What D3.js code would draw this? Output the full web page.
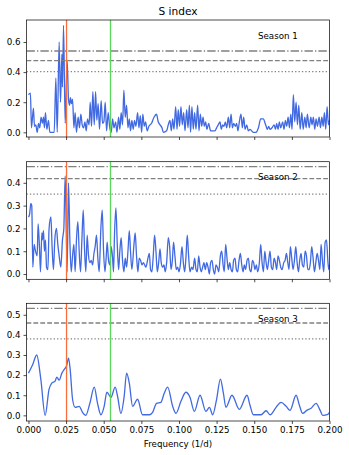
<!DOCTYPE html>
<html>
<head>
<meta charset="utf-8">
<script src="https://cdn.jsdelivr.net/npm/d3@7"></script>
<style>
body { margin: 0; background: #fff; }
svg { display: block; }
text { font-family: "DejaVu Sans", sans-serif; }
</style>
</head>
<body>
<svg id="chart"></svg>
<script>
// Season 1 periodogram
const freq1 = [
0.0000,0.0013,0.0020,0.0033,0.0040,0.0049,0.0058,0.0067,0.0075,0.0084,
0.0093,0.0100,0.0106,0.0113,0.0122,0.0133,0.0142,0.0171,0.0182,0.0191,
0.0204,0.0213,0.0222,0.0226,0.0233,0.0244,0.0257,0.0266,0.0273,0.0279,
0.0286,0.0293,0.0302,0.0310,0.0319,0.0330,0.0339,0.0348,0.0357,0.0366,
0.0375,0.0384,0.0392,0.0403,0.0410,0.0419,0.0428,0.0437,0.0446,0.0454,
0.0463,0.0472,0.0483,0.0492,0.0501,0.0510,0.0519,0.0530,0.0539,0.0550,
0.0559,0.0568,0.0579,0.0588,0.0599,0.0607,0.0616,0.0625,0.0634,0.0643,
0.0652,0.0661,0.0670,0.0678,0.0687,0.0696,0.0705,0.0714,0.0725,0.0734,
0.0743,0.0752,0.0760,0.0769,0.0778,0.0789,0.0800,0.0818,0.0834,0.0851,
0.0862,0.0874,0.0887,0.0896,0.0918,0.0929,0.0940,0.0949,0.0958,0.0967,
0.0978,0.0987,0.0995,0.1004,0.1013,0.1022,0.1031,0.1040,0.1051,0.1060,
0.1069,0.1077,0.1086,0.1095,0.1104,0.1113,0.1124,0.1133,0.1142,0.1151,
0.1160,0.1168,0.1177,0.1186,0.1197,0.1210,0.1239,0.1250,0.1261,0.1273,
0.1281,0.1290,0.1299,0.1308,0.1317,0.1328,0.1337,0.1346,0.1355,0.1363,
0.1375,0.1383,0.1392,0.1401,0.1412,0.1421,0.1430,0.1439,0.1450,0.1461,
0.1472,0.1494,0.1512,0.1528,0.1543,0.1561,0.1572,0.1579,0.1587,0.1596,
0.1605,0.1618,0.1632,0.1641,0.1649,0.1658,0.1667,0.1676,0.1689,0.1698,
0.1707,0.1716,0.1725,0.1734,0.1743,0.1751,0.1760,0.1769,0.1778,0.1787,
0.1796,0.1805,0.1816,0.1825,0.1836,0.1845,0.1853,0.1865,0.1876,0.1884,
0.1893,0.1902,0.1911,0.1920,0.1931,0.1940,0.1949,0.1958,0.1966,0.1975,
0.1984,0.1993,0.2000
];
const power1 = [
0.25,0.26,0.03,0.16,0.04,0.05,0.00,0.06,0.03,0.10,
0.06,0.10,0.03,0.13,0.02,0.08,0.00,0.00,0.36,0.00,
0.60,0.20,0.52,0.30,0.71,0.06,0.48,0.22,0.18,0.23,
0.19,0.22,0.03,0.13,0.00,0.10,0.03,0.12,0.05,0.03,
0.07,0.01,0.09,0.05,0.20,0.04,0.27,0.05,0.27,0.08,
0.19,0.02,0.21,0.06,0.07,0.20,0.01,0.13,0.04,0.00,
0.09,0.03,0.07,0.00,0.10,0.02,0.13,0.05,0.28,0.10,
0.18,0.03,0.09,0.01,0.08,0.02,0.08,0.04,0.13,0.03,
0.11,0.00,0.12,0.04,0.07,0.01,0.04,0.06,0.10,0.12,
0.07,0.05,0.03,0.00,0.01,0.05,0.08,0.01,0.09,0.02,
0.17,0.02,0.15,0.04,0.17,0.05,0.13,0.01,0.15,0.03,
0.18,0.00,0.17,0.02,0.13,0.02,0.18,0.01,0.12,0.04,
0.10,0.04,0.07,0.02,0.06,0.01,0.01,0.03,0.05,0.07,
0.02,0.05,0.04,0.07,0.03,0.10,0.03,0.12,0.03,0.06,
0.04,0.06,0.01,0.07,0.12,0.03,0.10,0.02,0.05,0.01,
0.02,0.00,0.00,0.03,0.09,0.09,0.06,0.04,0.02,0.04,
0.02,0.03,0.05,0.02,0.06,0.02,0.07,0.03,0.07,0.02,
0.08,0.04,0.10,0.03,0.12,0.02,0.25,0.07,0.20,0.05,
0.18,0.02,0.13,0.02,0.10,0.03,0.12,0.03,0.10,0.05,
0.10,0.02,0.09,0.04,0.10,0.03,0.10,0.04,0.13,0.02,
0.17,0.05,0.08
];

// Season 2 periodogram
const freq2 = [
0.0000,0.0007,0.0016,0.0022,0.0029,0.0038,0.0044,0.0051,0.0058,0.0064,
0.0073,0.0080,0.0089,0.0093,0.0100,0.0106,0.0113,0.0120,0.0129,0.0137,
0.0149,0.0157,0.0166,0.0175,0.0186,0.0195,0.0204,0.0215,0.0226,0.0235,
0.0244,0.0251,0.0257,0.0266,0.0275,0.0284,0.0293,0.0302,0.0310,0.0319,
0.0328,0.0337,0.0346,0.0355,0.0364,0.0372,0.0381,0.0390,0.0399,0.0408,
0.0417,0.0426,0.0435,0.0443,0.0452,0.0461,0.0470,0.0481,0.0490,0.0499,
0.0508,0.0517,0.0523,0.0532,0.0541,0.0550,0.0559,0.0565,0.0572,0.0581,
0.0590,0.0599,0.0607,0.0616,0.0625,0.0634,0.0643,0.0652,0.0661,0.0670,
0.0678,0.0687,0.0701,0.0709,0.0718,0.0727,0.0736,0.0745,0.0754,0.0763,
0.0772,0.0780,0.0794,0.0803,0.0811,0.0820,0.0829,0.0838,0.0847,0.0856,
0.0865,0.0874,0.0882,0.0891,0.0900,0.0909,0.0918,0.0929,0.0938,0.0947,
0.0956,0.0964,0.0973,0.0982,0.0991,0.1000,0.1009,0.1020,0.1029,0.1038,
0.1046,0.1055,0.1064,0.1073,0.1084,0.1093,0.1104,0.1113,0.1122,0.1131,
0.1140,0.1148,0.1157,0.1166,0.1175,0.1184,0.1193,0.1202,0.1210,0.1219,
0.1228,0.1237,0.1246,0.1255,0.1264,0.1275,0.1284,0.1293,0.1301,0.1310,
0.1319,0.1328,0.1337,0.1346,0.1355,0.1363,0.1372,0.1381,0.1390,0.1399,
0.1408,0.1417,0.1426,0.1434,0.1443,0.1452,0.1461,0.1470,0.1479,0.1488,
0.1496,0.1505,0.1514,0.1523,0.1534,0.1543,0.1552,0.1561,0.1570,0.1579,
0.1587,0.1596,0.1605,0.1614,0.1623,0.1632,0.1641,0.1649,0.1658,0.1667,
0.1676,0.1685,0.1696,0.1705,0.1714,0.1723,0.1731,0.1740,0.1749,0.1758,
0.1767,0.1776,0.1785,0.1794,0.1802,0.1811,0.1820,0.1829,0.1838,0.1847,
0.1856,0.1865,0.1873,0.1882,0.1891,0.1900,0.1909,0.1918,0.1927,0.1936,
0.1944,0.1953,0.1962,0.1971,0.1980,0.1989,0.1995,0.2000
];
const power2 = [
0.25,0.26,0.31,0.30,0.03,0.13,0.11,0.09,0.08,0.22,
0.12,0.01,0.18,0.15,0.19,0.10,0.15,0.03,0.02,0.20,
0.25,0.12,0.02,0.15,0.20,0.13,0.08,0.03,0.15,0.20,
0.43,0.20,0.01,0.40,0.15,0.01,0.08,0.13,0.01,0.15,
0.23,0.10,0.01,0.15,0.28,0.12,0.01,0.17,0.08,0.05,
0.06,0.04,0.09,0.12,0.17,0.07,0.01,0.20,0.28,0.10,
0.01,0.08,0.14,0.06,0.04,0.12,0.07,0.01,0.18,0.29,
0.13,0.02,0.10,0.16,0.06,0.01,0.07,0.03,0.10,0.19,
0.10,0.02,0.13,0.18,0.08,0.01,0.07,0.06,0.04,0.05,
0.04,0.03,0.07,0.09,0.02,0.01,0.08,0.17,0.10,0.01,
0.05,0.11,0.05,0.03,0.04,0.01,0.05,0.16,0.12,0.02,
0.06,0.14,0.08,0.02,0.03,0.01,0.04,0.12,0.05,0.01,
0.07,0.17,0.08,0.01,0.03,0.02,0.07,0.02,0.01,0.08,
0.03,0.01,0.03,0.05,0.02,0.05,0.03,0.00,0.05,0.06,
0.02,0.00,0.04,0.03,0.01,0.08,0.10,0.04,0.01,0.13,
0.07,0.02,0.05,0.02,0.01,0.06,0.07,0.02,0.01,0.06,
0.09,0.04,0.01,0.04,0.02,0.06,0.07,0.02,0.01,0.06,
0.05,0.02,0.04,0.01,0.05,0.13,0.05,0.01,0.10,0.05,
0.02,0.06,0.10,0.03,0.02,0.07,0.05,0.02,0.08,0.06,
0.03,0.02,0.05,0.06,0.09,0.05,0.02,0.12,0.07,0.02,
0.06,0.12,0.05,0.01,0.06,0.09,0.04,0.03,0.10,0.08,
0.02,0.02,0.05,0.12,0.07,0.01,0.05,0.09,0.06,0.02,
0.13,0.06,0.01,0.14,0.15,0.06,0.02,0.04
];

// Season 3 periodogram (smooth)
const freq3 = [
0.0000,0.0027,0.0055,0.0082,0.0111,0.0137,0.0155,0.0177,0.0188,0.0204,
0.0222,0.0239,0.0253,0.0266,0.0277,0.0293,0.0310,0.0337,0.0359,0.0381,
0.0408,0.0437,0.0459,0.0481,0.0503,0.0521,0.0548,0.0576,0.0592,0.0614,
0.0636,0.0652,0.0670,0.0692,0.0725,0.0758,0.0803,0.0825,0.0851,0.0880,
0.0902,0.0925,0.0958,0.0980,0.1013,0.1046,0.1073,0.1102,0.1140,0.1179,
0.1202,0.1224,0.1250,0.1275,0.1295,0.1312,0.1352,0.1401,0.1452,0.1472,
0.1494,0.1545,0.1579,0.1605,0.1645,0.1678,0.1712,0.1738,0.1778,0.1800,
0.1822,0.1849,0.1878,0.1911,0.1938,0.1955,0.1989,0.2000
];
const power3 = [
0.21,0.25,0.30,0.18,0.00,0.13,0.16,0.17,0.19,0.175,
0.21,0.23,0.245,0.285,0.23,0.08,0.04,0.045,0.015,0.00,
0.06,0.14,0.06,0.003,0.045,0.115,0.09,0.14,0.095,0.01,
0.095,0.21,0.16,0.045,0.08,0.003,0.003,0.015,0.06,0.065,
0.11,0.14,0.045,0.01,0.07,0.115,0.09,0.02,0.10,0.02,
0.04,0.003,0.08,0.18,0.11,0.04,0.10,0.03,0.10,0.05,
0.003,0.003,0.023,0.003,0.04,0.065,0.045,0.025,0.10,0.05,
0.01,0.025,0.035,0.06,0.025,0.00,0.005,0.015
];

// false alarm levels (dash-dot, dashed, dotted)
const levels1 = [0.540, 0.476, 0.403];
const levels2 = [0.471, 0.418, 0.350];
const levels3 = [0.532, 0.459, 0.380];

// marked frequencies (orange, green)
const markFreqs = [0.0253, 0.0545];

const xTicks = [0, 0.025, 0.05, 0.075, 0.1, 0.125, 0.15, 0.175, 0.2];
const yTicks1 = [0, 0.2, 0.4, 0.6];
const yTicks2 = [0, 0.1, 0.2, 0.3, 0.4];
const yTicks3 = [0, 0.1, 0.2, 0.3, 0.4, 0.5];
const xDomain = [-0.0013, 0.2];
const yDomain1 = [-0.031, 0.746];
const yDomain2 = [-0.023, 0.4925];
const yDomain3 = [-0.028, 0.557];
const seasonNames = ['Season 1', 'Season 2', 'Season 3'];

const width = 349, height = 455;
const svg = d3.select('#chart').attr('width', width).attr('height', height);

class PeriodPanel {
    constructor (config, data) {
        this.config = {
            id: config.id,
            left: config.left,
            top: config.top,
            width: config.width,
            height: config.height,
            xlabels: config.xlabels || false,
            label: config.label || ''
        };
        this.data = data;
        this.init();
    }

    init() {
        let self = this;
        const c = self.config;

        self.chart = svg.append('g')
            .attr('transform', `translate(${c.left}, ${c.top})`);

        self.xscale = d3.scaleLinear().domain(xDomain).range([0, c.width]);
        self.yscale = d3.scaleLinear().domain(self.data.ydomain).range([c.height, 0]);

        self.chart.append('clipPath')
            .attr('id', `clip${c.id}`)
            .append('rect')
            .attr('width', c.width)
            .attr('height', c.height);

        self.plot = self.chart.append('g')
            .attr('clip-path', `url(#clip${c.id})`);
    }

    render() {
        let self = this;
        const c = self.config;
        const d = self.data;

        const points = d3.zip(d.freq, d.power);
        const line = d3.line()
            .x(p => self.xscale(p[0]))
            .y(p => self.yscale(p[1]))
            .curve(d3.curveMonotoneX);

        self.plot.append('path')
            .attr('d', line(points))
            .attr('fill', 'none')
            .attr('stroke', '#4169e1')
            .attr('stroke-width', 1.3)
            .attr('stroke-linejoin', 'round');

        const dashes = ['8.4,2.1,1.3,2.1', '4.8,2.1', '1.3,2.1'];
        self.plot.selectAll('line.level')
            .data(d.levels)
            .enter()
            .append('line')
            .attr('class', 'level')
            .attr('x1', 0)
            .attr('x2', c.width)
            .attr('y1', v => self.yscale(v))
            .attr('y2', v => self.yscale(v))
            .attr('stroke', '#808080')
            .attr('stroke-width', 1.3)
            .attr('stroke-dasharray', (v, i) => dashes[i]);

        const markColors = ['#fa6e3c', '#5ad75a'];
        self.plot.selectAll('line.mark')
            .data(markFreqs)
            .enter()
            .append('line')
            .attr('class', 'mark')
            .attr('x1', f => self.xscale(f))
            .attr('x2', f => self.xscale(f))
            .attr('y1', 0)
            .attr('y2', c.height)
            .attr('stroke', (f, i) => markColors[i])
            .attr('stroke-width', 1.3);

        const xaxis = d3.axisBottom(self.xscale)
            .tickValues(xTicks)
            .tickSize(3)
            .tickPadding(3)
            .tickFormat(c.xlabels ? d3.format('.3f') : () => '');
        const yaxis = d3.axisLeft(self.yscale)
            .tickValues(d.yticks)
            .tickSize(3)
            .tickPadding(3)
            .tickFormat(d3.format('.1f'));

        const xg = self.chart.append('g')
            .attr('transform', `translate(0, ${c.height})`)
            .call(xaxis);
        const yg = self.chart.append('g').call(yaxis);
        [xg, yg].forEach(g => {
            g.select('.domain').remove();
            g.selectAll('line').attr('stroke', '#000').attr('stroke-width', 0.7);
            g.selectAll('text')
                .attr('fill', '#000')
                .style('font-size', '8.7px')
                .style('font-family', '"DejaVu Sans", sans-serif');
        });

        self.chart.append('rect')
            .attr('width', c.width)
            .attr('height', c.height)
            .attr('fill', 'none')
            .attr('stroke', '#000')
            .attr('stroke-width', 0.7);

        self.chart.append('text')
            .attr('x', 231.5)
            .attr('y', d.labelY)
            .style('font-size', '8.7px')
            .attr('fill', '#000')
            .text(c.label);
    }
}

const plotLeft = 26.5, plotWidth = 303;
const panels = [
    { top: 20, height: 117, freq: freq1, power: power1, levels: levels1, yticks: yTicks1, ydomain: yDomain1, labelY: 19 },
    { top: 161.7, height: 117.6, freq: freq2, power: power2, levels: levels2, yticks: yTicks2, ydomain: yDomain2, labelY: 18.8 },
    { top: 303.3, height: 117.7, freq: freq3, power: power3, levels: levels3, yticks: yTicks3, ydomain: yDomain3, labelY: 19.2 }
];

panels.forEach((p, i) => {
    const panel = new PeriodPanel({
        id: i,
        left: plotLeft,
        top: p.top,
        width: plotWidth,
        height: p.height,
        xlabels: i === panels.length - 1,
        label: seasonNames[i]
    }, p);
    panel.render();
});

svg.append('text')
    .attr('x', plotLeft + plotWidth / 2)
    .attr('y', 15)
    .attr('text-anchor', 'middle')
    .style('font-size', '10.6px')
    .text('S index');

svg.append('text')
    .attr('x', plotLeft + plotWidth / 2)
    .attr('y', 446.5)
    .attr('text-anchor', 'middle')
    .style('font-size', '8.7px')
    .text('Frequency (1/d)');
</script>
</body>
</html>
